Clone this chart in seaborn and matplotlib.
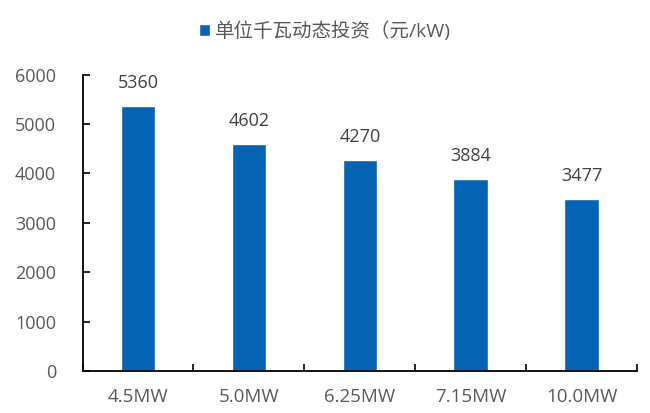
import matplotlib
matplotlib.use('Agg')
import matplotlib.pyplot as plt
import seaborn as sns
import pandas as pd

# data
capacity = ['4.5MW', '5.0MW', '6.25MW', '7.15MW', '10.0MW']
investment = [5360, 4602, 4270, 3884, 3477]
series_name = '单位千瓦动态投资（元/kW)'
y_ticks = [0, 1000, 2000, 3000, 4000, 5000, 6000]

bar_color = '#0563B4'
text_color = '#595959'

sns.set_theme(style='white')
plt.rcParams['font.family'] = ['Open Sans', 'Noto Sans CJK SC', 'DejaVu Sans']

df = pd.DataFrame({'capacity': capacity, 'investment': investment})

fig = plt.figure(figsize=(6.5, 4.13), dpi=100)
ax = fig.add_axes([0.127, 0.102, 0.853, 0.717])

sns.barplot(data=df, x='capacity', y='investment', color=bar_color,
            width=0.31, saturation=1, ax=ax, label=series_name)

for i, v in enumerate(investment):
    ax.annotate(str(v), (i, v), xytext=(0, 13), textcoords='offset points',
                ha='center', va='baseline', fontsize=13, color='#404040')

ax.set_ylim(0, 6000)
ax.set_yticks(y_ticks)
ax.set_xlim(-0.5, len(capacity) - 0.5)
ax.set_xlabel('')
ax.set_ylabel('')

# category boundary ticks on x axis, inward
ax.set_xticks([i - 0.5 for i in range(len(capacity) + 1)], minor=True)
ax.tick_params(axis='x', which='minor', direction='in', length=5, width=1.2,
               color='black', bottom=True)
ax.tick_params(axis='x', which='major', length=0, pad=12,
               labelsize=13.5, labelcolor=text_color)
ax.tick_params(axis='y', direction='in', length=5, width=1.2, color='black',
               left=True, pad=19, labelsize=13, labelcolor=text_color)

for side in ['top', 'right']:
    ax.spines[side].set_visible(False)
for side in ['left', 'bottom']:
    ax.spines[side].set_color('black')
    ax.spines[side].set_linewidth(1.3)

handles, labels = ax.get_legend_handles_labels()
if ax.get_legend() is not None:
    ax.get_legend().remove()
leg = fig.legend(handles, labels, loc='center', bbox_to_anchor=(0.5, 0.925),
                 frameon=False, fontsize=14, handlelength=0.6,
                 handleheight=0.6, handletextpad=0.25)
for t in leg.get_texts():
    t.set_color(text_color)

fig.savefig('out.png', dpi=100)
